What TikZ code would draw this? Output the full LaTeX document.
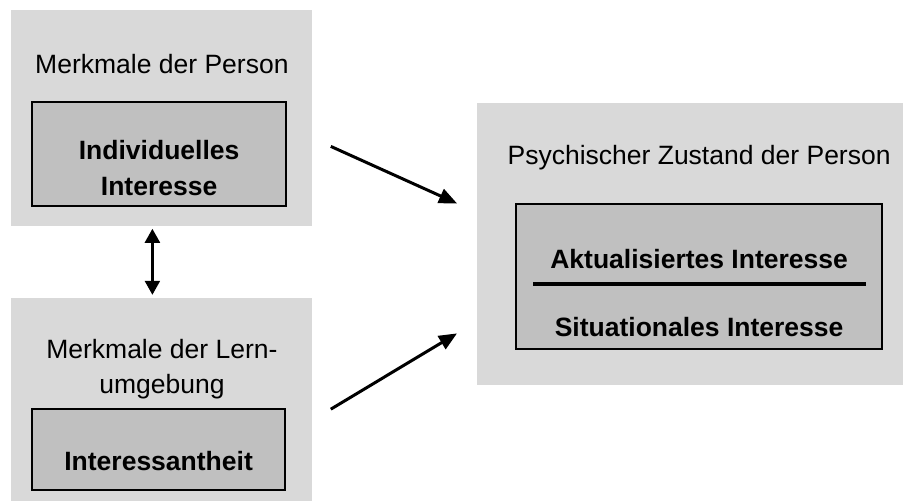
\documentclass[tikz,border=0pt]{standalone}
\usepackage{fontspec}
\setmainfont{Liberation Sans}
\usetikzlibrary{positioning}
\usetikzlibrary{arrows.meta}
\definecolor{panelgrau}{RGB}{217,217,217}
\definecolor{kerngrau}{RGB}{192,192,192}
\tikzset{
    panel/.style = {fill=panelgrau, inner sep=0pt},
    kernbox/.style = {draw, line width=1.1pt, fill=kerngrau, inner sep=0pt},
    beschriftung/.style = {font=\fontsize{13.25pt}{17.5pt}\selectfont,
                           align=center, inner sep=0pt
    },
    kerntext/.style = {beschriftung, font=\fontsize{13.25pt}{18pt}\selectfont\bfseries},
    wirkpfeil/.style = {line width=1.5pt, -{Triangle[length=9pt, width=7.5pt]}},
    wechselpfeil/.style = {line width=1.2pt,
                           {Triangle[length=7pt, width=7.5pt]}-{Triangle[length=7pt, width=7.5pt]}
    },
}
\begin{document}
\begin{tikzpicture}
        \useasboundingbox (0,0) rectangle (451.5pt,-250.5pt);
        % linke Seite
        \node (pA) [panel, anchor=north west, minimum width=150.5pt,
                    minimum height=108pt] at (5.5pt,-5pt) {};
        \node (tA) [beschriftung] at ([yshift=-27pt]pA.north) {Merkmale der Person};
        \node (bI) [kernbox, below right=45.5pt and 10pt of pA.north west,
                    minimum width=127pt, minimum height=52pt] {};
        \node (tI) [kerntext] at ([yshift=-7pt]bI.center) {Individuelles\\Interesse};
        \node (pB) [panel, below=35.5pt of pA, minimum width=150.5pt,
                    minimum height=102pt] {};
        \node (tB) [beschriftung] at ([yshift=-35.5pt]pB.north)
                  {Merkmale der Lern-\\umgebung};
        \node (bL) [kernbox, below right=55pt and 10pt of pB.north west,
                    minimum width=126.5pt, minimum height=40.5pt] {};
        \node (tL) [kerntext] at ([yshift=-5.75pt]bL.center) {Interessantheit};
        % rechte Seite
        \node (pC) [panel, anchor=north west, minimum width=213pt,
                    minimum height=141pt] at (238.5pt,-51.5pt) {};
        \node (bZ) [kernbox, below right=50pt and 19pt of pC.north west,
                    minimum width=183pt, minimum height=72.5pt] {};
        \node (tC) [beschriftung] at ([yshift=22.5pt]bZ.north)
                  {Psychischer Zustand der Person};
        \node (tAkt) [kerntext] at ([yshift=9pt]bZ.center) {Aktualisiertes Interesse};
        \node (tSit) [kerntext] at ([yshift=-25pt]bZ.center) {Situationales Interesse};
        \draw[line width=1.6pt] ([xshift=9pt, yshift=-3.75pt]bZ.west)
                             -- ([xshift=-8.5pt, yshift=-3.75pt]bZ.east);
        % Pfeile
        \coordinate (a1) at ([xshift=9pt, yshift=-14pt]pA.east);
        \coordinate (z1) at ([xshift=-10pt, yshift=20.5pt]pC.west);
        \coordinate (a2) at ([xshift=9pt, yshift=-4.5pt]pB.east);
        \coordinate (z2) at ([xshift=-10pt, yshift=-44.5pt]pC.west);
        \draw[wirkpfeil] (a1) -- (z1);
        \draw[wirkpfeil] (a2) -- (z2);
        \draw[wechselpfeil] ([xshift=-4.75pt, yshift=-1pt]pA.south)
                         -- ([xshift=-4.75pt, yshift=1.5pt]pB.north);
    \end{tikzpicture}
\end{document}
